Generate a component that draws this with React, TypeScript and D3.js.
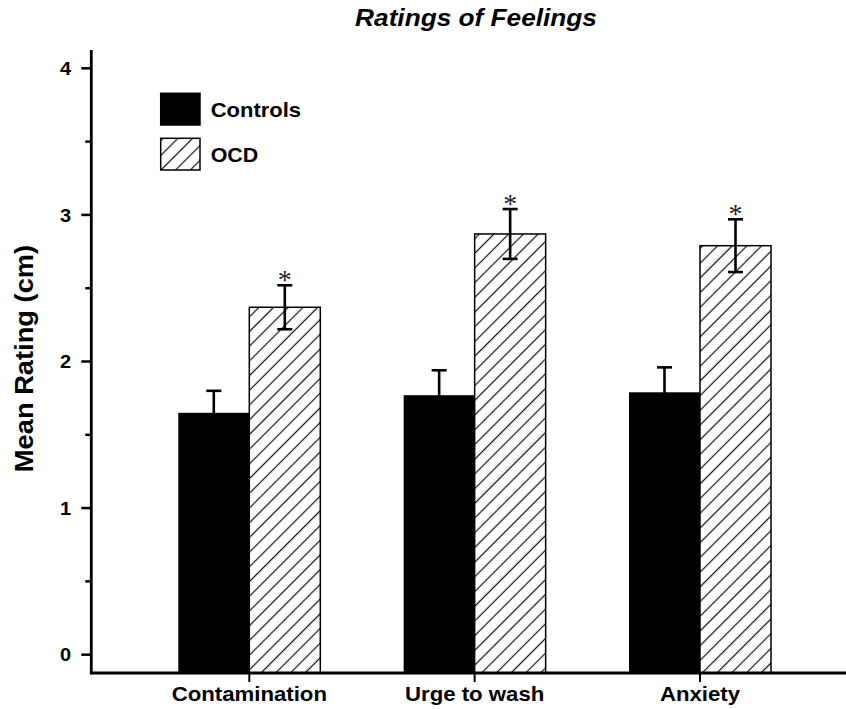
import React, { useEffect, useRef } from 'react';
import * as d3 from 'd3';

const categories = ['Contamination', 'Urge to wash', 'Anxiety'];
const seriesNames = ['Controls', 'OCD'];
const controlsMean = [1.65, 1.77, 1.79];
const controlsErr = [0.15, 0.17, 0.17];
const ocdMean = [2.37, 2.87, 2.79];
const ocdErr = [0.15, 0.17, 0.18];
const ocdSignificant = [true, true, true];
const yTicks = [0, 1, 2, 3, 4];
const yMinorTicks = [0.5, 1.5, 2.5, 3.5];

const FONT = "Arial, 'Liberation Sans', sans-serif";

export default function App() {
  const ref = useRef<SVGSVGElement | null>(null);

  useEffect(() => {
    if (!ref.current) return;
    const width = 846;
    const height = 709;
    const svg = d3.select(ref.current);
    svg.selectAll('*').remove();
    svg.attr('viewBox', `0 0 ${width} ${height}`);

    const axisX = 91.3;
    const y = d3.scaleLinear().domain([-0.125, 4.125]).range([673, 50]);
    const x = d3.scalePoint<string>().domain(categories).range([249.3, 700]);
    const barW = 71;
    const x1 = d3.scaleBand<string>().domain(seriesNames).range([-barW, barW]);

    // hatch pattern "/"
    const pat = svg.append('defs').append('pattern')
      .attr('id', 'hatch')
      .attr('patternUnits', 'userSpaceOnUse')
      .attr('width', 10.4)
      .attr('height', 10.4)
      .attr('patternTransform', 'rotate(45)');
    pat.append('rect').attr('width', 10.4).attr('height', 10.4).attr('fill', '#fff');
    pat.append('line')
      .attr('x1', 5.2).attr('x2', 5.2).attr('y1', 0).attr('y2', 10.4)
      .attr('stroke', '#111').attr('stroke-width', 1.2);

    const stretchText = (
      px: number, py: number, str: string, size: number, sx: number,
      anchor: string, extra = ''
    ) =>
      svg.append('text')
        .attr('transform', `translate(${px},${py}) ${extra} scale(${sx},1)`)
        .attr('text-anchor', anchor)
        .attr('font-family', FONT)
        .attr('font-weight', 'bold')
        .attr('font-size', size)
        .attr('fill', '#000')
        .text(str);

    const rows = categories.flatMap((c, i) => [
      { cat: c, series: 'Controls', v: controlsMean[i], e: controlsErr[i], sig: false },
      { cat: c, series: 'OCD', v: ocdMean[i], e: ocdErr[i], sig: ocdSignificant[i] },
    ]);

    // bars
    svg.append('g').selectAll('rect')
      .data(rows)
      .join('rect')
      .attr('x', d => x(d.cat)! + x1(d.series)!)
      .attr('y', d => y(d.v))
      .attr('width', x1.bandwidth())
      .attr('height', d => y.range()[0] - y(d.v))
      .attr('fill', d => (d.series === 'Controls' ? '#000' : 'url(#hatch)'))
      .attr('stroke', '#000')
      .attr('stroke-width', d => (d.series === 'Controls' ? 0 : 1.5));

    // error bars
    const eb = svg.append('g').selectAll('g').data(rows).join('g');
    const cx = (d: typeof rows[number]) => x(d.cat)! + x1(d.series)! + x1.bandwidth() / 2;
    eb.append('line')
      .attr('x1', cx).attr('x2', cx)
      .attr('y1', d => y(d.v - d.e)).attr('y2', d => y(d.v + d.e))
      .attr('stroke', '#000').attr('stroke-width', 2.6);
    [1, -1].forEach(sgn => {
      eb.append('line')
        .attr('x1', d => cx(d) - 7.5).attr('x2', d => cx(d) + 7.5)
        .attr('y1', d => y(d.v + sgn * d.e)).attr('y2', d => y(d.v + sgn * d.e))
        .attr('stroke', '#000').attr('stroke-width', 2.6);
    });
    eb.filter(d => d.sig).append('text')
      .attr('x', cx)
      .attr('y', d => y(d.v + d.e) + 4)
      .attr('text-anchor', 'middle')
      .attr('font-family', "'Liberation Serif', 'Times New Roman', serif")
      .attr('font-size', 28)
      .attr('fill', '#222')
      .text('*');

    // y axis
    svg.append('line')
      .attr('x1', axisX).attr('x2', axisX)
      .attr('y1', y.range()[1]).attr('y2', y.range()[0] + 1.3)
      .attr('stroke', '#000').attr('stroke-width', 2.8);
    svg.append('g').selectAll('line').data(yTicks).join('line')
      .attr('x1', axisX - 10).attr('x2', axisX)
      .attr('y1', d => y(d)).attr('y2', d => y(d))
      .attr('stroke', '#000').attr('stroke-width', 2.5);
    svg.append('g').selectAll('line').data(yMinorTicks).join('line')
      .attr('x1', axisX - 6).attr('x2', axisX)
      .attr('y1', d => y(d)).attr('y2', d => y(d))
      .attr('stroke', '#000').attr('stroke-width', 2.5);
    yTicks.forEach(t => {
      stretchText(71, y(t) + 6.8, String(t), 19, 1.05, 'end');
    });

    // x axis
    svg.append('line')
      .attr('x1', axisX - 1.4).attr('x2', width)
      .attr('y1', y.range()[0]).attr('y2', y.range()[0])
      .attr('stroke', '#000').attr('stroke-width', 2.8);
    svg.append('g').selectAll('line').data(categories).join('line')
      .attr('x1', d => x(d)!).attr('x2', d => x(d)!)
      .attr('y1', y.range()[0]).attr('y2', y.range()[0] + 9)
      .attr('stroke', '#000').attr('stroke-width', 2);
    categories.forEach(c => {
      stretchText(x(c)!, 700.7, c, 20, 1.11, 'middle');
    });

    // axis title
    stretchText(33, 358.5, 'Mean Rating (cm)', 26, 1.05, 'middle', 'rotate(-90)');

    // chart title
    stretchText(476, 25.7, 'Ratings of Feelings', 23, 1.14, 'middle')
      .attr('font-style', 'italic');

    // legend
    const legend = svg.append('g');
    const legendY = d3.scalePoint<string>().domain(seriesNames).range([93.3, 138.3]);
    legend.selectAll('rect').data(seriesNames).join('rect')
      .attr('x', 160.7)
      .attr('y', d => legendY(d)!)
      .attr('width', 39.3)
      .attr('height', 31.7)
      .attr('fill', d => (d === 'Controls' ? '#000' : 'url(#hatch)'))
      .attr('stroke', '#000')
      .attr('stroke-width', 1.5);
    seriesNames.forEach(s => {
      stretchText(210.7, legendY(s)! + 23.4, s, 20, s === 'OCD' ? 1.07 : 1.1, 'start');
    });
  }, []);

  return (
    <svg
      ref={ref}
      width={846}
      height={709}
      style={{ position: 'absolute', left: 0, top: 0, background: '#fff' }}
    />
  );
}
